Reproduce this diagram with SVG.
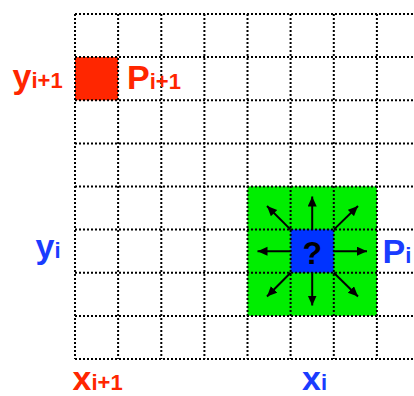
<svg xmlns="http://www.w3.org/2000/svg" width="414" height="396" viewBox="0 0 414 396">
<style>
.g{stroke:#000;stroke-width:2;stroke-dasharray:2 2;fill:none}
.a{stroke:#000;stroke-width:2;fill:none;marker-end:url(#ah)}
.t{font-family:"Liberation Sans",Arial,Helvetica,sans-serif;font-weight:bold;font-size:34px}
.s{font-size:22px}
.r{fill:#FF2600}
.b{fill:#1A3CFF}
</style>
<defs>
<marker id="ah" markerUnits="userSpaceOnUse" markerWidth="11" markerHeight="10" refX="10" refY="4.5" orient="auto">
<path d="M0,0 L10,4.5 L0,9 z" fill="#000"/>
</marker>
</defs>
<rect width="414" height="396" fill="#fff"/>
<g id="cell-p-next"><rect x="75" y="57.1" width="43.1" height="43.1" fill="#FF2600"/></g>
<g id="neighbourhood"><rect x="247.5" y="186.4" width="129.4" height="129.4" fill="#00EE00"/></g>
<g id="cell-p-i"><rect x="290.6" y="229.5" width="43.1" height="43.1" fill="#0033FF"/></g>
<g id="grid">
<path class="g" d="M75,14H414M75,57.1H414M75,100.3H414M75,143.4H414M75,186.5H414M75,229.6H414M75,272.8H414M75,315.9H414M75,359H414"/>
<path class="g" d="M75,14V359M118.1,14V359M161.3,14V359M204.4,14V359M247.5,14V359M290.6,14V359M333.8,14V359M376.9,14V359"/>
</g>
<g id="connectors">
<line class="a" x1="312.2" y1="229.6" x2="312.2" y2="196.5"/>
<line class="a" x1="312.2" y1="272.8" x2="312.2" y2="305.5"/>
<line class="a" x1="290.6" y1="251.2" x2="257.5" y2="251.2"/>
<line class="a" x1="333.8" y1="251.2" x2="367" y2="251.2"/>
<line class="a" x1="290.6" y1="229.6" x2="267" y2="206"/>
<line class="a" x1="333.8" y1="229.6" x2="358" y2="206"/>
<line class="a" x1="290.6" y1="272.8" x2="267" y2="296.5"/>
<line class="a" x1="333.8" y1="272.8" x2="358" y2="296.5"/>
</g>
<g id="question"><text class="t" x="312.2" y="263.5" text-anchor="middle" style="font-size:32px" fill="#000">?</text></g>
<g id="labels">
<text class="t r" x="12.5" y="88">y<tspan class="s">i+1</tspan></text>
<text class="t r" x="127" y="88.5">P<tspan class="s">i+1</tspan></text>
<text class="t b" x="35.5" y="258">y<tspan class="s">i</tspan></text>
<text class="t b" x="382.5" y="263">P<tspan class="s">i</tspan></text>
<text class="t r" x="72.5" y="390">x<tspan class="s">i+1</tspan></text>
<text class="t b" x="302" y="390">x<tspan class="s">i</tspan></text>
</g>
</svg>
